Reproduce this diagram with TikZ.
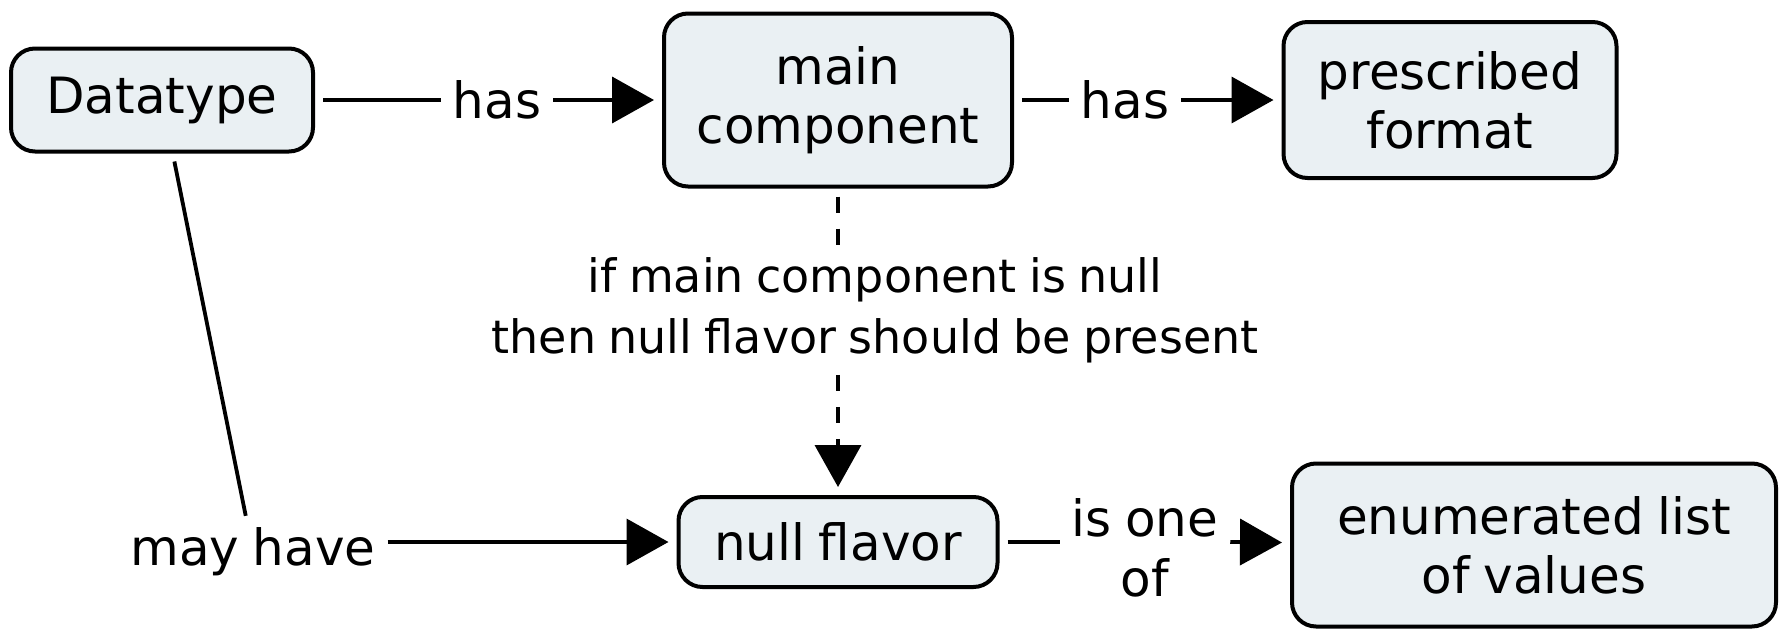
\documentclass[tikz,border=0pt]{standalone}
\usepackage{fontspec}
\setmainfont{DejaVu Sans}[WordSpace=0.85]
\usetikzlibrary{arrows.meta}
\definecolor{boxfill}{RGB}{234,240,243}
\begin{document}
\begin{tikzpicture}[x=0.5pt,y=-0.5pt,
  every node/.style={font=\fontsize{25pt}{29.5pt}\selectfont, align=center},
  concept/.style={draw, line width=2pt, rounded corners=12pt, fill=boxfill,
                  inner sep=0pt, outer sep=5pt},
  linkword/.style={inner sep=0pt, outer sep=6pt,
                   font=\fontsize{25pt}{30pt}\selectfont},
  conn/.style={line width=1.9pt},
  arr/.style={conn, -{Triangle[length=21pt,width=23pt]}},
  dashconn/.style={conn, dash pattern=on 8pt off 8pt}
]
\useasboundingbox (0,0) rectangle (1785,632);

% concepts
\node[concept, minimum width=151pt, minimum height=51.5pt] (dt) at (162,100) {Datatype};
\node[concept, minimum width=174pt, minimum height=86.5pt] (mc) at (838,100) {main\\component};
\node[concept, minimum width=166.5pt, minimum height=78pt] (pf) at (1450,100) {prescribed\\format};
\node[concept, minimum width=159.5pt, minimum height=45pt] (nf) at (838,542) {null flavor};
\node[concept, minimum width=242pt, minimum height=81.5pt] (el) at (1534,545) {enumerated list\\of values};

% linking phrases
\node[linkword] (h1) at (497,100) {has};
\node[linkword] (h2) at (1125,100) {has};
\node[linkword, font=\fontsize{23pt}{30.5pt}\selectfont] (cond) at (875,310)
  {if main component is null\\then null flavor should be present};
\node[linkword] (mh) at (253,552) {may have};
\node[linkword] (io) at (1145,548) {is one\\of};

% connectors
\draw[conn] (dt) -- (h1);
\draw[arr] (h1) -- (mc);
\draw[conn] (mc) -- (h2);
\draw[arr] (h2) -- (pf);

\draw[dashconn] (mc) -- (mc |- cond.north);
\draw[dashconn, arr] (mc |- cond.south) -- (nf);

\draw[conn] (dt) -- (mh);
\draw[arr] (mh.east |- nf) -- (nf);

\draw[conn] (nf) -- (io.west |- nf);
\draw[arr] (io.east |- nf) -- (el);
\end{tikzpicture}
\end{document}
